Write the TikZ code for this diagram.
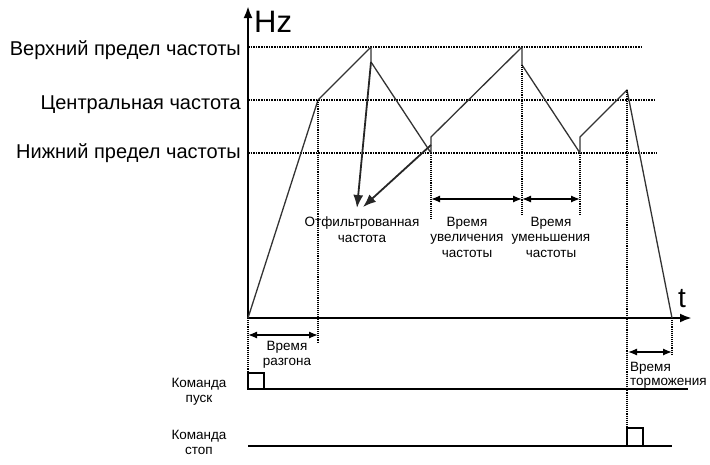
\documentclass[tikz,border=0pt]{standalone}
\usepackage{fontspec}
\setmainfont{Liberation Sans}
\usetikzlibrary{arrows.meta,positioning}

\tikzset{
  axis/.style={line width=2.4pt,-{Latex[length=12pt,width=9pt]}},
  levelline/.style={densely dotted,line width=1.6pt},
  guide/.style={densely dotted,line width=1.1pt},
  freq/.style={line width=1.3pt,black!80,line join=round},
  pointer/.style={line width=1.8pt,black!85,-{Latex[length=13pt,width=10pt]}},
  span/.style={line width=1.3pt,{Latex[length=9pt,width=7pt]}-{Latex[length=9pt,width=7pt]}},
  biglabel/.style={font=\fontsize{20}{22}\selectfont,anchor=base east,inner sep=0pt},
  smalllabel/.style={font=\fontsize{13.5}{15.5}\selectfont,align=center,inner sep=0pt,anchor=north},
}

\begin{document}
\begin{tikzpicture}[x=1pt,y=-1pt]
  \useasboundingbox (0,0) rectangle (710,464);
  % axes
  \coordinate (O) at (248,318);
  \draw[axis] (O) -- (248,6) coordinate (ytip);
  \draw[axis] (O) -- (692,318) coordinate (xtip);
  \node[font=\fontsize{31}{31}\selectfont,anchor=base west,inner sep=0pt] (hz) at (254,32) {Hz};
  \node[font=\fontsize{28}{28}\selectfont,anchor=base,inner sep=0pt] (t) at (682,307) {t};
  % frequency levels
  \foreach \y/\b/\e/\l/\n in {47/55/642/{Верхний предел частоты}/upper,
                              100/109/656/{Центральная частота}/centre,
                              153/158/657/{Нижний предел частоты}/lower}
    {\draw[levelline] (248,\y) -- (\e,\y);
     \node[biglabel] (\n) at (241,\b) {\l};}
  % output frequency
  \foreach \n/\x/\y in {p1/318/100,p2/371/47,p3/371/62,p4/431/153,p5/431/137,
                        p6/522/47,p7/522/65,p8/580/153,p9/580/137,p10/627/90,p11/672/318}
    {\coordinate (\n) at (\x,\y);}
  \draw[freq] (O) -- (p1) -- (p2) -- (p3) -- (p4) -- (p5) -- (p6) -- (p7)
              -- (p8) -- (p9) -- (p10) -- (p11);
  % guides
  \coordinate (g1) at (318,342);
  \coordinate (g2) at (431,220);
  \coordinate (g3) at (522,215);
  \coordinate (g4) at (580,215);
  \coordinate (g5) at (627,446);
  \coordinate (g6) at (248,389);
  \coordinate (g7) at (672,354);
  \draw[guide] (p1) -- (g1);
  \draw[guide] (p4) -- (g2);
  \draw[guide] (p7) -- (g3);
  \draw[guide] (p8) -- (g4);
  \draw[guide] (p10) -- (g5);
  \draw[guide] (O) -- (g6);
  \draw[guide] (p11) -- (g7);
  % filtered frequency
  \node[smalllabel] (filt) at (362,217) {Отфильтрованная\\частота};
  \coordinate (f1) at (357,208);
  \coordinate (f2) at (363,207);
  \coordinate (q1) at (431,145);
  \draw[pointer] (p3) -- (f1);
  \draw[pointer] (q1) -- (f2);
  % time spans
  \draw[span] (431,199) coordinate (s1) -- (522,199) coordinate (s2);
  \draw[span] (s2) -- (580,199) coordinate (s3);
  \draw[span] (248,335) coordinate (s4) -- (318,335) coordinate (s5);
  \draw[span] (628,352) coordinate (s6) -- (672,352) coordinate (s7);
  \node[smalllabel] (inc) at (467,217) {Время\\увеличения\\частоты};
  \node[smalllabel] (dec) at (551,217) {Время\\уменьшения\\частоты};
  \node[smalllabel] (acc) at (287,341) {Время\\разгона};
  \node[smalllabel,align=left,anchor=north west,font=\fontsize{13.5}{14.5}\selectfont] (brk) at (630,362) {Время\\торможения};
  % commands
  \draw[line width=1.2pt] (248,389) -- (688,389);
  \draw[line width=1.2pt] (248,389) rectangle (264,373);
  \draw[line width=1.2pt] (248,446) -- (672,446);
  \draw[line width=1.2pt] (627,446) rectangle (643,428);
  \node[smalllabel] (run) at (199,378) {Команда\\пуск};
  \node[smalllabel] (stop) at (199,430) {Команда\\стоп};
\end{tikzpicture}
\end{document}
